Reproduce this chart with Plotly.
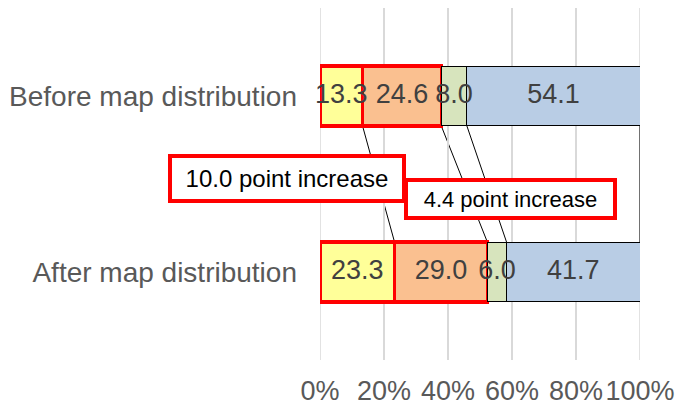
import plotly.graph_objects as go

# Share of respondents by answer, before and after the map was handed out (%)
categories = ["After map distribution", "Before map distribution"]
seg1 = [23.3, 13.3]
seg2 = [29.0, 24.6]
seg3 = [6.0, 8.0]
seg4 = [41.7, 54.1]
x_ticks = [0, 20, 40, 60, 80, 100]
x_tick_labels = ["0%", "20%", "40%", "60%", "80%", "100%"]
note_labels = ["10.0 point increase", "4.4 point increase"]

series = [
    (seg1, "#FFFF99", "#FF0000", 3.5),
    (seg2, "#FAC090", "#FF0000", 3.5),
    (seg3, "#D7E4BD", "#000000", 1),
    (seg4, "#B9CDE5", "#000000", 1),
]

BAR_W = 0.34
FONT = "Liberation Sans, Arial, sans-serif"

fig = go.Figure()

# Edge gridlines (Plotly skips gridlines lying on the plot border)
for xv in (x_ticks[0], x_ticks[-1]):
    fig.add_shape(type="line", xref="x", yref="paper", x0=xv, x1=xv, y0=0, y1=1,
                  line=dict(color="#D9D9D9", width=1.5), layer="below")

for vals, fill, edge, lw in series:
    fig.add_trace(go.Bar(
        y=categories, x=vals, orientation="h", width=BAR_W,
        marker=dict(color=fill, line=dict(color=edge, width=lw)),
        showlegend=False, hoverinfo="skip",
    ))

# Value labels centred on each segment, drawn above all bars
lab_x, lab_y, lab_t = [], [], []
for ci, cat in enumerate(categories):
    start = 0.0
    for vals, *_ in series:
        lab_x.append(start + vals[ci] / 2)
        lab_y.append(cat)
        lab_t.append(f"{vals[ci]:.1f}")
        start += vals[ci]
fig.add_trace(go.Scatter(
    x=lab_x, y=lab_y, text=lab_t, mode="text", textposition="middle center",
    textfont=dict(family=FONT, size=27, color="#404040"),
    cliponaxis=False, showlegend=False, hoverinfo="skip",
))

# Series lines joining segment boundaries of the two bars
cum_before, cum_after = 0.0, 0.0
for vals, *_ in series:
    cum_after += vals[0]
    cum_before += vals[1]
    fig.add_shape(type="line", xref="x", yref="y",
                  x0=cum_before, y0=1 - BAR_W / 2,
                  x1=cum_after, y1=BAR_W / 2,
                  line=dict(color="#000000", width=1), layer="below")

# Callout boxes
fig.add_annotation(xref="paper", yref="paper", x=-0.103, y=0.517,
                   xanchor="center", yanchor="middle",
                   text=note_labels[0], showarrow=False,
                   font=dict(family=FONT, size=24, color="#000000"),
                   bgcolor="#FFFFFF", bordercolor="#FF0000", borderwidth=4,
                   borderpad=0, width=230, height=41)
fig.add_annotation(xref="paper", yref="paper", x=0.594, y=0.456,
                   xanchor="center", yanchor="middle",
                   text=note_labels[1], showarrow=False,
                   font=dict(family=FONT, size=22, color="#000000"),
                   bgcolor="#FFFFFF", bordercolor="#FF0000", borderwidth=4,
                   borderpad=0, width=205, height=34)

fig.update_layout(
    barmode="stack",
    width=677, height=407,
    margin=dict(l=320, r=37, t=8, b=47, autoexpand=False),
    paper_bgcolor="#FFFFFF", plot_bgcolor="#FFFFFF",
    font=dict(family=FONT, color="#595959"),
    xaxis=dict(range=[0, 100], tickvals=x_ticks, ticktext=x_tick_labels,
               showgrid=True, gridcolor="#D9D9D9", gridwidth=1.5,
               zeroline=False, showline=False, ticks="",
               tickfont=dict(family=FONT, size=27, color="#595959"),
               ticklabelstandoff=12, automargin=False, fixedrange=True),
    yaxis=dict(categoryorder="array", categoryarray=categories,
               showgrid=False, zeroline=False, showline=False, ticks="",
               tickfont=dict(family=FONT, size=28, color="#595959"),
               ticklabelstandoff=22, automargin=False, fixedrange=True),
)

fig.write_html("out.html")
